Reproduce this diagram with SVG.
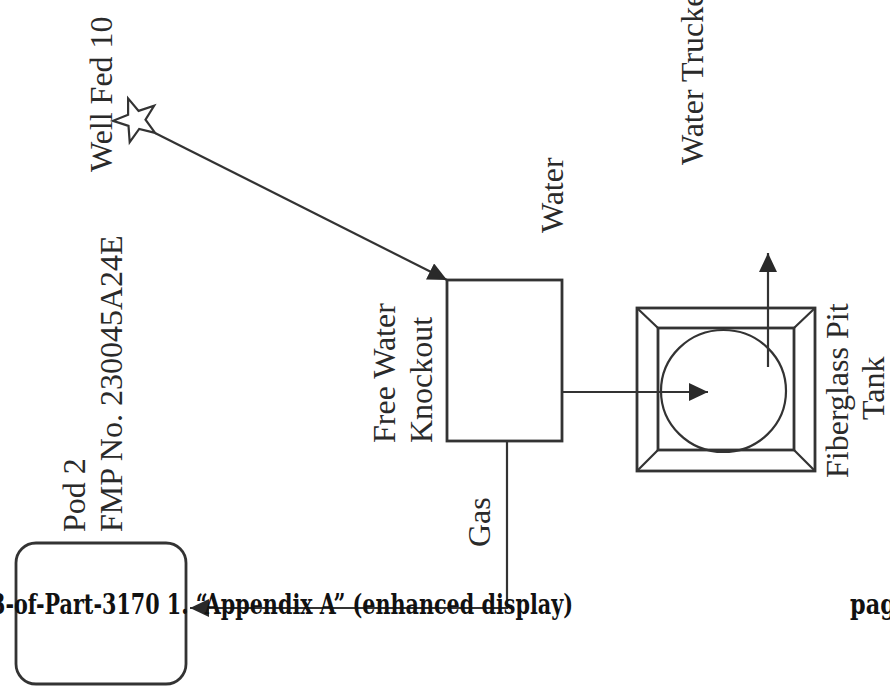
<svg xmlns="http://www.w3.org/2000/svg" width="890" height="688" viewBox="0 0 890 688">
<style>
.ln{fill:none;stroke:#333;stroke-width:2.2}
.bx{fill:none;stroke:#333;stroke-width:2.8}
.lb{font-family:"Liberation Serif","Times New Roman",serif;font-size:32px;fill:#2a2a2a}
.ov{font-family:"DejaVu Serif",serif;font-weight:bold;font-size:28px;fill:#111}
</style>
<defs>
<marker id="ah" markerUnits="userSpaceOnUse" markerWidth="19" markerHeight="18" refX="19" refY="9" orient="auto">
<path d="M0,0 L19,9 L0,18 z" fill="#2a2a2a"/>
</marker>
</defs>
<rect width="890" height="688" fill="#fff"/>
<g id="well">
<polygon class="ln" points="128.1,98.4 138.6,110.9 154.1,105.8 145.5,119.7 155.1,132.9 139.2,128.9 129.7,142.1 128.5,125.9 113,120.8 128.1,114.7"/>
<text class="lb" transform="translate(112,172) rotate(-90)">Well Fed 10</text>
</g>
<g id="fwko">
<rect class="bx" x="447" y="280" width="115" height="161"/>
<text class="lb" transform="translate(395,443) rotate(-90)">Free Water</text>
<text class="lb" transform="translate(432,443) rotate(-90)">Knockout</text>
</g>
<g id="pit">
<rect class="bx" x="637" y="308" width="178" height="163"/>
<rect class="bx" x="658" y="328" width="136" height="122"/>
<path class="ln" d="M637,308 L658,328 M815,308 L794,328 M637,471 L658,450 M815,471 L794,450"/>
<ellipse class="ln" cx="723.5" cy="391" rx="62.5" ry="61"/>
<text class="lb" transform="translate(848,478) rotate(-90)">Fiberglass Pit</text>
<text class="lb" transform="translate(884,420) rotate(-90)">Tank</text>
</g>
<g id="pod">
<rect class="bx" x="16" y="543" width="170" height="141" rx="20"/>
<text class="lb" transform="translate(85,532) rotate(-90)">Pod 2</text>
<text class="lb" transform="translate(122,532) rotate(-90)">FMP No. 230045A24E</text>
</g>
<g id="connectors">
<line class="ln" x1="155" y1="133" x2="447" y2="280" marker-end="url(#ah)"/>
<line class="ln" x1="562" y1="392" x2="708" y2="392" marker-end="url(#ah)"/>
<line class="ln" x1="768" y1="367" x2="768" y2="253" marker-end="url(#ah)"/>
<polyline class="ln" points="507,441 507,608 190,608" marker-end="url(#ah)"/>
<text class="lb" transform="translate(563,233) rotate(-90)">Water</text>
<text class="lb" transform="translate(703,165) rotate(-90)">Water Trucked</text>
<text class="lb" transform="translate(490,547) rotate(-90)">Gas</text>
</g>
<g id="overlay">
<text class="ov" x="-9" y="614" textLength="582" lengthAdjust="spacingAndGlyphs">3-of-Part-3170 1. “Appendix A” (enhanced display)</text>
<text class="ov" x="850" y="614" textLength="60" lengthAdjust="spacingAndGlyphs">page</text>
</g>
</svg>
